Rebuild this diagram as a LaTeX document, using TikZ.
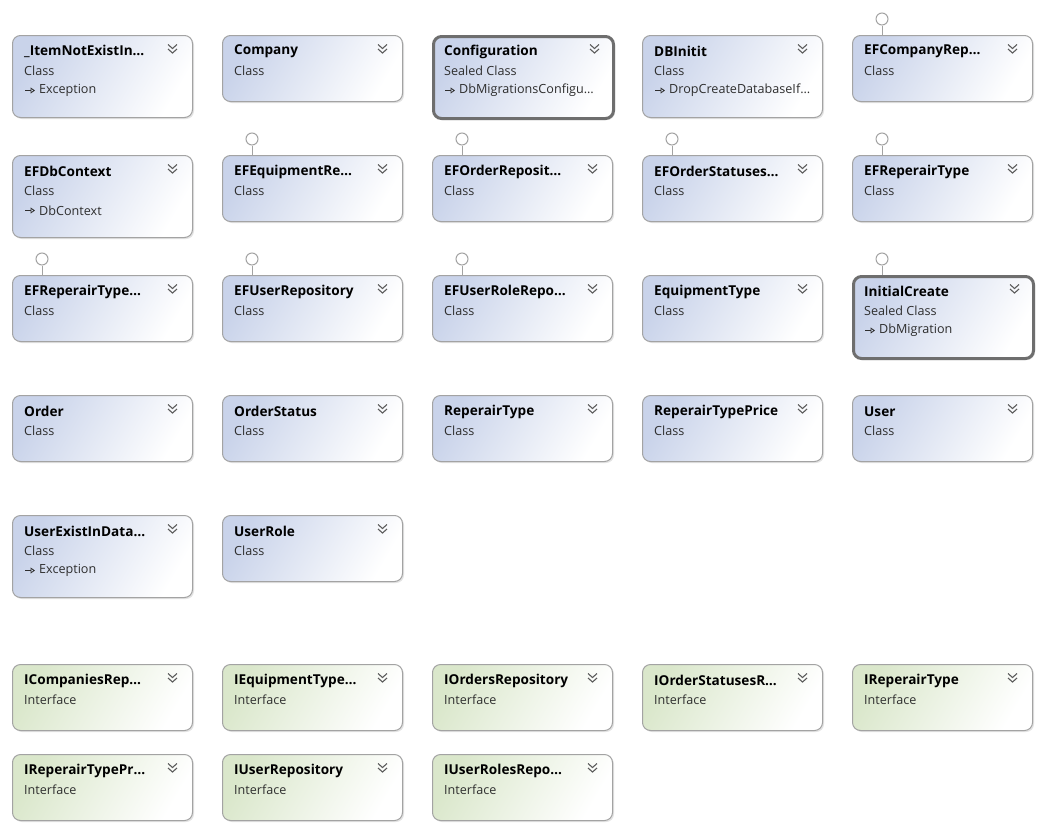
\documentclass[tikz,border=0pt]{standalone}
\usepackage{fontspec}
\setmainfont{Open Sans}
\usetikzlibrary{arrows.meta,shadows}

\definecolor{classfill}{HTML}{C9D3EA}
\definecolor{ifacefill}{HTML}{DAE7CB}
\definecolor{boxline}{HTML}{A3A3A3}
\definecolor{sealline}{HTML}{6E6E6E}
\definecolor{chevcol}{HTML}{5C5C5C}
\definecolor{subcol}{HTML}{2E2E2E}

\tikzset{
  umlbox/.style={draw=boxline, line width=1pt, rounded corners=8pt,
    anchor=north west, minimum width=180pt, inner sep=0pt,
    drop shadow={shadow xshift=1.5pt, shadow yshift=-1.5pt, opacity=0.22}},
  classbox/.style={umlbox, left color=classfill, right color=white, shading angle=60},
  sealedbox/.style={classbox, draw=sealline, line width=3pt},
  ifacebox/.style={umlbox, left color=ifacefill, right color=white, shading angle=60},
  titletext/.style={anchor=west, inner sep=0pt, font=\fontsize{13.6}{16}\selectfont\bfseries, text=black},
  subtext/.style={anchor=west, inner sep=0pt, font=\fontsize{12.6}{15}\selectfont, text=subcol},
  chevron/.style={draw=chevcol, line width=1.1pt},
  inherit/.style={draw=subcol, line width=0.8pt, -{Triangle[open,length=4.5pt,width=6pt]}},
  lolli/.style={circle, draw=boxline, fill=white, line width=1pt, minimum size=12pt, inner sep=0pt},
  lollistem/.style={draw=boxline, line width=1pt}
}

% a type box: name, left x, top y, style, height, title, kind
\newcommand{\typebox}[7]{%
  \node[#4, minimum height=#5pt] (#1) at (#2,#3) {};
  \node[titletext] (#1-t) at ([xshift=12pt,yshift=-16.5pt]#1.north west) {#6};
  \node[subtext] (#1-k) at ([xshift=12pt,yshift=-35.5pt]#1.north west) {#7};
  \draw[chevron] ([xshift=-25pt,yshift=-9.5pt]#1.north east) -- ++(4.5pt,-4pt) -- ++(4.5pt,4pt);
  \draw[chevron] ([xshift=-25pt,yshift=-14pt]#1.north east) -- ++(4.5pt,-4pt) -- ++(4.5pt,4pt);
}
% base type line under the kind
\newcommand{\basetype}[2]{%
  \coordinate (#1-a) at ([xshift=13pt,yshift=-55.5pt]#1.north west);
  \draw[inherit] (#1-a) -- ++(10pt,0pt);
  \node[subtext] (#1-b) at ([xshift=27pt,yshift=-55.5pt]#1.north west) {#2};
}
% implemented interface marker on top of a box
\newcommand{\lollipop}[1]{%
  \node[lolli] (#1-l) at ([xshift=30pt,yshift=16pt]#1.north west) {};
  \draw[lollistem] (#1-l.south) -- (#1-l.south |- #1.north);
}

\begin{document}
\begin{tikzpicture}[x=1pt, y=-1pt]
\useasboundingbox[fill=white] (0,0) rectangle (1044,833);

% row 1
\typebox{a1}{12}{35}{classbox}{82}{\_ItemNotExistIn…}{Class}
\basetype{a1}{Exception}
\typebox{a2}{222}{35}{classbox}{66}{Company}{Class}
\typebox{a3}{432}{35}{sealedbox}{82}{Configuration}{Sealed Class}
\basetype{a3}{DbMigrationsConfigu…}
\typebox{a4}{642}{35}{classbox}{82}{DBInitit}{Class}
\basetype{a4}{DropCreateDatabaseIf…}
\typebox{a5}{852}{35}{classbox}{66}{EFCompanyRep…}{Class}
\lollipop{a5}

% row 2
\typebox{b1}{12}{155}{classbox}{82}{EFDbContext}{Class}
\basetype{b1}{DbContext}
\typebox{b2}{222}{155}{classbox}{66}{EFEquipmentRe…}{Class}
\lollipop{b2}
\typebox{b3}{432}{155}{classbox}{66}{EFOrderReposit…}{Class}
\lollipop{b3}
\typebox{b4}{642}{155}{classbox}{66}{EFOrderStatuses…}{Class}
\lollipop{b4}
\typebox{b5}{852}{155}{classbox}{66}{EFReperairType}{Class}
\lollipop{b5}

% row 3
\typebox{c1}{12}{275}{classbox}{66}{EFReperairType…}{Class}
\lollipop{c1}
\typebox{c2}{222}{275}{classbox}{66}{EFUserRepository}{Class}
\lollipop{c2}
\typebox{c3}{432}{275}{classbox}{66}{EFUserRoleRepo…}{Class}
\lollipop{c3}
\typebox{c4}{642}{275}{classbox}{66}{EquipmentType}{Class}
\typebox{c5}{852}{275}{sealedbox}{82}{InitialCreate}{Sealed Class}
\basetype{c5}{DbMigration}
\lollipop{c5}

% row 4
\typebox{d1}{12}{395}{classbox}{66}{Order}{Class}
\typebox{d2}{222}{395}{classbox}{66}{OrderStatus}{Class}
\typebox{d3}{432}{395}{classbox}{66}{ReperairType}{Class}
\typebox{d4}{642}{395}{classbox}{66}{ReperairTypePrice}{Class}
\typebox{d5}{852}{395}{classbox}{66}{User}{Class}

% row 5
\typebox{e1}{12}{515}{classbox}{82}{UserExistInData…}{Class}
\basetype{e1}{Exception}
\typebox{e2}{222}{515}{classbox}{66}{UserRole}{Class}

% interfaces
\typebox{f1}{12}{664}{ifacebox}{66}{ICompaniesRep…}{Interface}
\typebox{f2}{222}{664}{ifacebox}{66}{IEquipmentType…}{Interface}
\typebox{f3}{432}{664}{ifacebox}{66}{IOrdersRepository}{Interface}
\typebox{f4}{642}{664}{ifacebox}{66}{IOrderStatusesR…}{Interface}
\typebox{f5}{852}{664}{ifacebox}{66}{IReperairType}{Interface}

\typebox{g1}{12}{754}{ifacebox}{66}{IReperairTypePr…}{Interface}
\typebox{g2}{222}{754}{ifacebox}{66}{IUserRepository}{Interface}
\typebox{g3}{432}{754}{ifacebox}{66}{IUserRolesRepo…}{Interface}
\end{tikzpicture}
\end{document}
